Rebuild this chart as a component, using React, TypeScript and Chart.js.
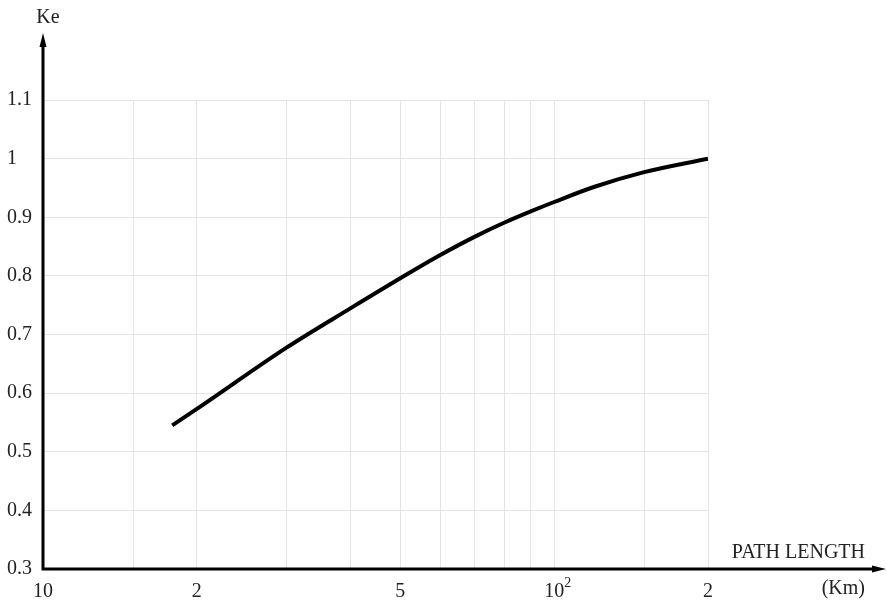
import React, { useEffect, useRef } from "react";
import { Chart, registerables } from "chart.js";

Chart.register(...registerables);

const pathLengthKm = [17.9, 20, 30, 40, 50, 60, 70, 80, 90, 100, 120, 150, 200];
const keValues = [0.545, 0.573, 0.678, 0.745, 0.796, 0.836, 0.867, 0.891, 0.91, 0.926, 0.952, 0.977, 1.0];

const xGridValues = [10, 15, 20, 30, 40, 50, 60, 70, 80, 90, 100, 150, 200];
const xTickLabels: Record<number, string> = { 10: "10", 20: "2", 50: "5", 100: "10", 200: "2" };
const yGridValues = [0.3, 0.4, 0.5, 0.6, 0.7, 0.8, 0.9, 1.0, 1.1];
const yTickLabels = ["0.3", "0.4", "0.5", "0.6", "0.7", "0.8", "0.9", "1", "1.1"];

const yAxisTitle = "Ke";
const xAxisTitle = "PATH LENGTH";
const xAxisUnit = "(Km)";

const FONT = "'Liberation Serif', 'DejaVu Serif', serif";
const TEXT = "#222";

const axesPlugin = {
  id: "arrowAxes",
  afterDraw(chart: any) {
    const ctx = chart.ctx;
    const xs = chart.scales.x;
    const ys = chart.scales.y;
    const x0 = xs.getPixelForValue(10);
    const y0 = ys.getPixelForValue(0.3);
    const W = chart.width;
    const xEnd = W - 1;
    const yEnd = 33;
    ctx.save();
    ctx.strokeStyle = "#000";
    ctx.fillStyle = "#000";
    ctx.lineWidth = 3;
    ctx.beginPath();
    ctx.moveTo(x0, y0);
    ctx.lineTo(xEnd - 8, y0);
    ctx.moveTo(x0, y0 + 1.5);
    ctx.lineTo(x0, yEnd + 8);
    ctx.stroke();
    // arrow heads
    ctx.beginPath();
    ctx.moveTo(xEnd, y0);
    ctx.lineTo(xEnd - 14, y0 - 3.5);
    ctx.lineTo(xEnd - 14, y0 + 3.5);
    ctx.closePath();
    ctx.fill();
    ctx.beginPath();
    ctx.moveTo(x0, yEnd);
    ctx.lineTo(x0 - 3.5, yEnd + 14);
    ctx.lineTo(x0 + 3.5, yEnd + 14);
    ctx.closePath();
    ctx.fill();

    ctx.fillStyle = TEXT;
    ctx.font = `20px ${FONT}`;
    ctx.textBaseline = "middle";
    ctx.textAlign = "center";
    ctx.fillText(yAxisTitle, x0 + 5, 18);
    ctx.textAlign = "right";
    ctx.fillText(xAxisTitle, W - 22, y0 - 16);
    ctx.fillText(xAxisUnit, W - 22, y0 + 20);
    // superscript for 10^2
    const px = xs.getPixelForValue(100);
    ctx.textAlign = "left";
    ctx.font = `14px ${FONT}`;
    ctx.fillText("2", px + 10, y0 + 14);
    ctx.restore();
  },
};

export default function App() {
  const ref = useRef<HTMLCanvasElement>(null);
  useEffect(() => {
    document.body.style.margin = "0";
    const chart = new Chart(ref.current as HTMLCanvasElement, {
      type: "line",
      data: {
        datasets: [
          {
            data: pathLengthKm.map((x, i) => ({ x, y: keValues[i] })),
            borderColor: "#000",
            borderWidth: 4,
            pointRadius: 0,
            cubicInterpolationMode: "monotone",
            fill: false,
          },
        ],
      },
      options: {
        animation: false,
        responsive: false,
        events: [],
        layout: { padding: { left: 7, top: 100, right: 179, bottom: 0 } },
        plugins: { legend: { display: false }, tooltip: { enabled: false } },
        scales: {
          x: {
            type: "logarithmic",
            min: 10,
            max: 200,
            afterBuildTicks: (scale: any) => {
              scale.ticks = xGridValues.map((v) => ({ value: v }));
            },
            afterFit: (scale: any) => {
              scale.height = 33;
            },
            border: { display: false },
            grid: { color: "#e4e4e4", lineWidth: 1, drawTicks: false },
            ticks: {
              autoSkip: false,
              maxRotation: 0,
              padding: 11,
              color: TEXT,
              font: { family: FONT, size: 20 },
              callback: (v: any) => xTickLabels[Number(v)] ?? "",
            },
          },
          y: {
            type: "linear",
            min: 0.3,
            max: 1.1,
            afterBuildTicks: (scale: any) => {
              scale.ticks = yGridValues.map((v) => ({ value: v }));
            },
            afterFit: (scale: any) => {
              scale.width = 36;
            },
            border: { display: false },
            grid: { color: "#e4e4e4", lineWidth: 1, drawTicks: false },
            ticks: {
              crossAlign: "far",
              color: TEXT,
              font: { family: FONT, size: 20 },
              callback: (v: any) => {
                const i = yGridValues.findIndex((g) => Math.abs(g - Number(v)) < 1e-6);
                return i >= 0 ? yTickLabels[i] : "";
              },
            },
          },
        },
      },
      plugins: [axesPlugin],
    });
    return () => chart.destroy();
  }, []);
  return <canvas ref={ref} width={887} height={602} style={{ display: "block" }} />;
}
